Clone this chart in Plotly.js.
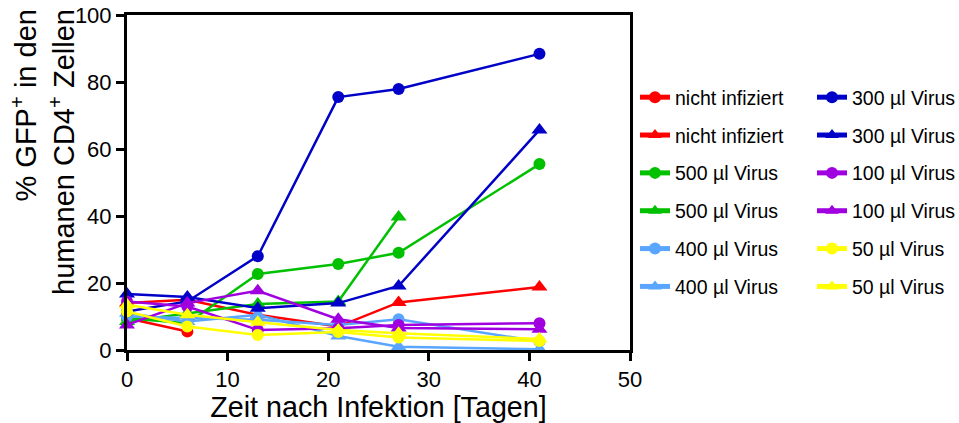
<!DOCTYPE html>
<html>
<head>
<meta charset="utf-8">
<script src="https://cdn.plot.ly/plotly-3.0.1.min.js"></script>
<style>
  html, body { margin: 0; padding: 0; background: #ffffff; }
  #chart { width: 959px; height: 423px; }
</style>
</head>
<body>
<div id="chart"></div>
<script>
// Sampling days after infection
const days = [0, 6, 13, 21, 27, 41];

// % GFP+ among human CD4+ cells, one array per mouse (circle / triangle)
const nichtInfiziertA = [9.5, 5.5, null, null, null, null];
const nichtInfiziertB = [14, 15, 10.5, 7, 14.2, 18.8];
const virus500A = [9.5, 8, 22.7, 25.7, 29, 55.5];
const virus500B = [8.5, 11, 13.7, 14.5, 39.7, null];
const virus400A = [10, 9.5, 9, 7.5, 9.2, 2.5];
const virus400B = [11, 8.5, 10.5, 4.2, 1, 0.2];
const virus300A = [11.5, 14.5, 28, 75.5, 77.9, 88.4];
const virus300B = [16.7, 15.8, 12.5, 14, 19.1, 65.7];
const virus100A = [14.5, 13, 6, 6.5, 7.5, 8];
const virus100B = [7.5, 14, 17.7, 9.2, 6.6, 6.2];
const virus50A = [11.5, 7, 4.5, 5.4, 3.7, 2.7];
const virus50B = [13.5, 10.5, 8.3, 6, 5, 3.3];

const groupNames = ['nicht infiziert', '500 µl Virus', '400 µl Virus',
                    '300 µl Virus', '100 µl Virus', '50 µl Virus'];
const groupColors = ['#ff0000', '#00c000', '#5aa5ff', '#0000c8', '#a000e0', '#ffff00'];
const groupSeries = [
  [nichtInfiziertA, nichtInfiziertB],
  [virus500A, virus500B],
  [virus400A, virus400B],
  [virus300A, virus300B],
  [virus100A, virus100B],
  [virus50A, virus50B]
];

const font = 'Arial, "Liberation Sans", sans-serif';
const symbols = ['circle', 'triangle-up'];
const markerSizes = [12, 14];

const traces = [];
groupSeries.forEach((pair, g) => {
  pair.forEach((vals, k) => {
    traces.push({
      type: 'scatter',
      mode: 'lines+markers',
      x: days,
      y: vals,
      name: groupNames[g],
      legend: g < 3 ? 'legend' : 'legend2',
      legendgroup: 'g' + g + '_' + k,
      line: { color: groupColors[g], width: 2.5 },
      marker: { color: groupColors[g], symbol: symbols[k], size: markerSizes[k] },
      cliponaxis: false,
      connectgaps: false,
      hoverinfo: 'x+y+name'
    });
  });
});

const legendCommon = {
  xref: 'container', yref: 'container',
  xanchor: 'left', yanchor: 'top',
  bgcolor: 'rgba(0,0,0,0)',
  borderwidth: 0,
  font: { family: font, size: 19.5, color: '#000000' },
  traceorder: 'grouped',
  tracegroupgap: 9.5,
  itemsizing: 'constant',
  maxheight: 400
};

const layout = {
  width: 959,
  height: 423,
  margin: { l: 127, r: 329, t: 15, b: 73 },
  paper_bgcolor: '#ffffff',
  plot_bgcolor: '#ffffff',
  font: { family: font, color: '#000000' },
  showlegend: true,
  legend: Object.assign({}, legendCommon, { x: 635 / 959, y: 1 - 78 / 423 }),
  legend2: Object.assign({}, legendCommon, { x: 812 / 959, y: 1 - 78 / 423 }),
  xaxis: {
    range: [0, 50],
    tickvals: [0, 10, 20, 30, 40, 50],
    ticks: 'outside', ticklen: 8, tickwidth: 3, tickcolor: '#000000',
    showline: true, linewidth: 3, linecolor: '#000000', mirror: true,
    showgrid: false, zeroline: false,
    tickfont: { family: font, size: 22, color: '#000000' },
    title: { text: 'Zeit nach Infektion [Tagen]', font: { family: font, size: 28.7, color: '#000000' }, standoff: 6 },
    automargin: false
  },
  yaxis: {
    range: [0, 100],
    tickvals: [0, 20, 40, 60, 80, 100],
    ticks: 'outside', ticklen: 8, tickwidth: 3, tickcolor: '#000000',
    showline: true, linewidth: 3, linecolor: '#000000', mirror: true,
    showgrid: false, zeroline: false,
    tickfont: { family: font, size: 22, color: '#000000' },
    automargin: false
  },
  annotations: [{
    text: '% GFP<sup>+</sup> in den<br>humanen CD4<sup>+</sup> Zellen',
    xref: 'paper', yref: 'paper',
    x: (43 - 127) / 503, y: (350 - 152) / 335,
    xanchor: 'center', yanchor: 'middle',
    textangle: -90,
    align: 'right',
    showarrow: false,
    font: { family: font, size: 29, color: '#000000' }
  }]
};

Plotly.newPlot('chart', traces, layout, { displayModeBar: false, staticPlot: true });
</script>
</body>
</html>
